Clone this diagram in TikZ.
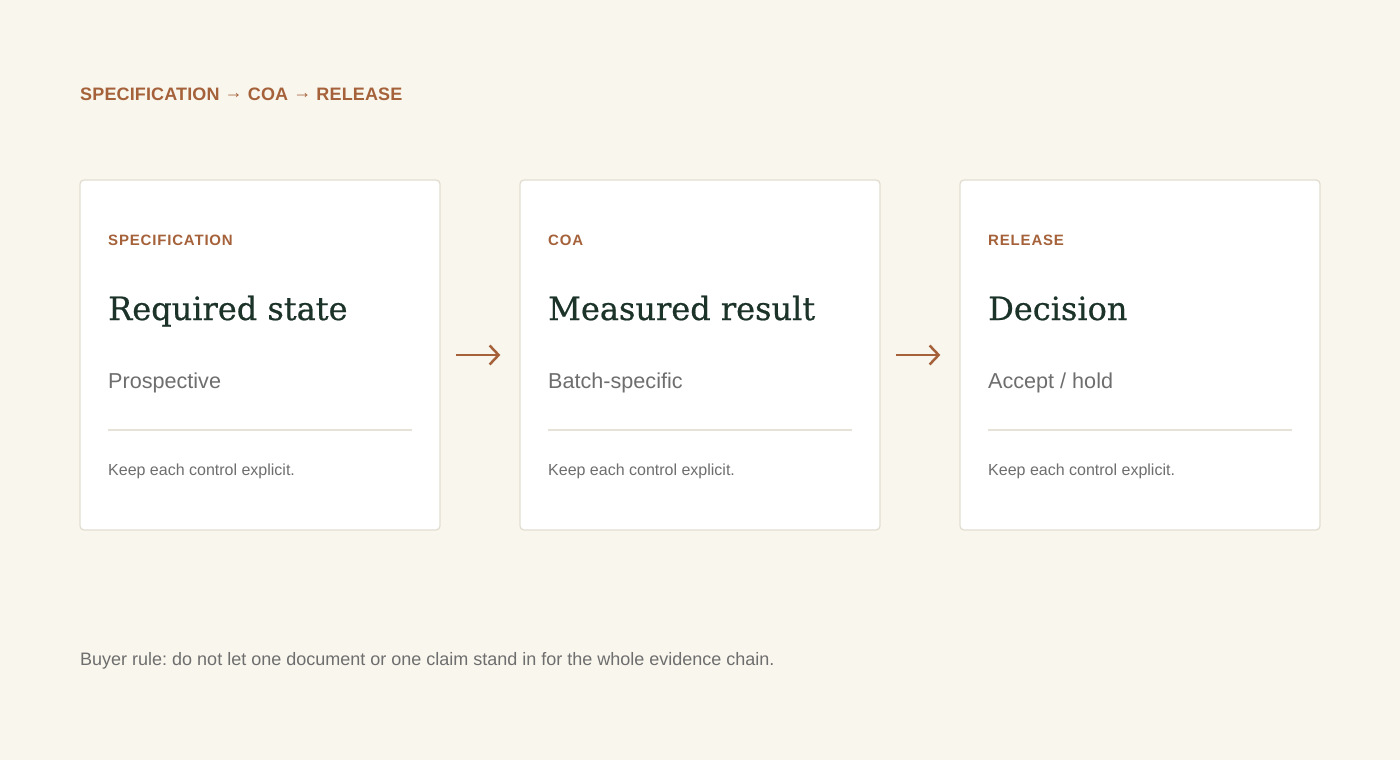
\documentclass[tikz,border=0pt]{standalone}
\usepackage{fontspec}
\usepackage{tikz}
\usetikzlibrary{arrows.meta}
\setmainfont{Liberation Sans}
\newfontfamily\headfont[FakeBold=0.6]{DejaVu Serif}
\newfontfamily\tagfont[LetterSpace=5.5]{Liberation Sans}
\newfontfamily\titlefont[LetterSpace=0.8]{Liberation Sans}
\frenchspacing

\definecolor{paper}{HTML}{F9F6EE}
\definecolor{cardline}{HTML}{E3DED1}
\definecolor{rust}{HTML}{A5623A}
\definecolor{pine}{HTML}{1C3329}
\definecolor{mute}{HTML}{6E6E6E}
\definecolor{rule}{HTML}{E6E2D8}

\begin{document}
\begin{tikzpicture}[
            x=1pt, y=-1pt,
            card/.style={draw=cardline, fill=white, line width=1.3pt, rounded corners=4pt, minimum width=360pt, minimum height=350pt, inner sep=0pt},
            tag/.style={anchor=base west, inner sep=0pt, text=rust, font=\tagfont\bfseries\fontsize{15}{18}\selectfont},
            heading/.style={anchor=base west, inner sep=0pt, text=pine, font=\headfont\fontsize{32}{38}\selectfont},
            sub/.style={anchor=base west, inner sep=0pt, text=mute, font=\fontsize{21.6}{26}\selectfont},
            note/.style={anchor=base west, inner sep=0pt, text=mute, font=\fontsize{16}{19}\selectfont},
            flow/.style={-{Straight Barb[length=9pt, width=19pt]}, line width=2.5pt, draw=rust, shorten <=15pt, shorten >=19pt}
        ]
            % Page
            \fill[paper] (0,0) rectangle (1400,760);

            % Title
            \node[tag, font=\titlefont\bfseries\fontsize{18}{22}\selectfont] (title) at (80,100.5) {SPECIFICATION \raisebox{2.5pt}{→} COA \raisebox{2.5pt}{→} RELEASE};

            % Cards
            \node[card] (spec) at (260,355) {};
            \node[card] (coa) at (700,355) {};
            \node[card] (release) at (1140,355) {};

            % Specification card
            \node[tag] (spectag) at (108,245) {SPECIFICATION};
            \node[heading] (spechead) at (108,320) {Required state};
            \node[sub] (specsub) at (108,388) {Prospective};
            \draw[rule, line width=1.5pt] (108,430) -- (412,430);
            \node[note] (specnote) at (108,475) {Keep each control explicit.};

            % COA card
            \node[tag] (coatag) at (548,245) {COA};
            \node[heading] (coahead) at (548,320) {Measured result};
            \node[sub] (coasub) at (548,388) {Batch-specific};
            \draw[rule, line width=1.5pt] (548,430) -- (852,430);
            \node[note] (coanote) at (548,475) {Keep each control explicit.};

            % Release card
            \node[tag] (reltag) at (988,245) {RELEASE};
            \node[heading] (relhead) at (988,320) {Decision};
            \node[sub] (relsub) at (988,388) {Accept / hold};
            \draw[rule, line width=1.5pt] (988,430) -- (1292,430);
            \node[note] (relnote) at (988,475) {Keep each control explicit.};

            % Arrows between cards
            \draw[flow] (spec.east) -- (coa.west);
            \draw[flow] (coa.east) -- (release.west);

            % Footer
            \node[note, font=\fontsize{18}{22}\selectfont] (footer) at (80,665) {Buyer rule: do not let one document or one claim stand in for the whole evidence chain.};
        \end{tikzpicture}
\end{document}
